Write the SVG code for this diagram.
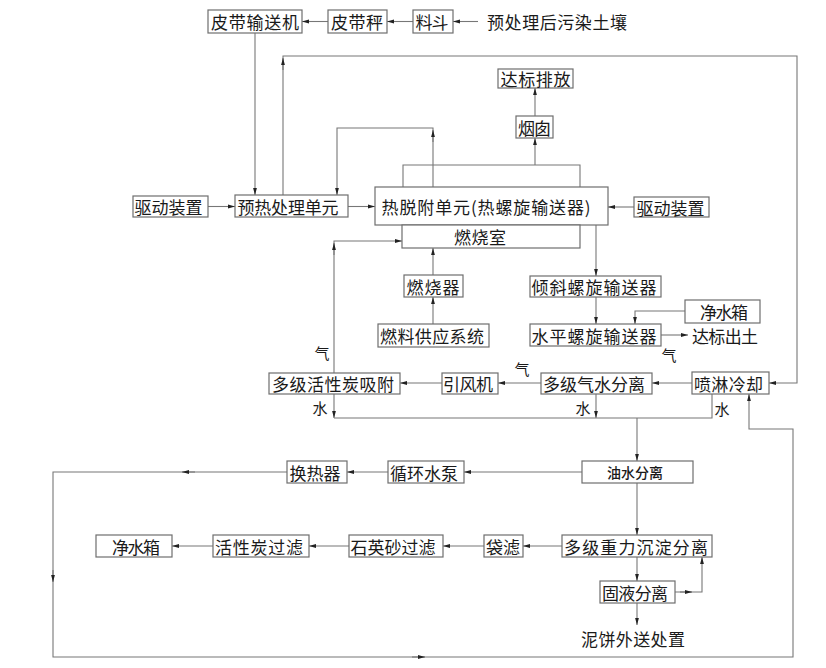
<svg xmlns="http://www.w3.org/2000/svg" width="826" height="668" viewBox="0 0 826 668">
<style>
.b{fill:#fff;stroke:#6e6e6e;stroke-width:1.2}
.t{font-family:"Noto Sans CJK SC","Noto Sans",sans-serif;font-size:17px;fill:#1a1a1a;text-anchor:middle;dominant-baseline:central}
.s{font-size:15px}
.c{fill:none;stroke:#777;stroke-width:1.1}
.a{marker-end:url(#ah)}
</style>
<defs>
<marker id="ah" markerUnits="userSpaceOnUse" markerWidth="8" markerHeight="5" refX="7" refY="2.5" orient="auto">
<path d="M0,0.6 L7,2.5 L0,4.4 z" fill="#222"/>
</marker>
</defs>
<rect width="826" height="668" fill="#fff"/>
<g id="connectors">
<line class="c a" x1="478" y1="21.5" x2="453" y2="21.5"/>
<line class="c a" x1="413" y1="21.5" x2="387" y2="21.5"/>
<line class="c a" x1="328" y1="21.5" x2="302" y2="21.5"/>
<line class="c a" x1="255" y1="33" x2="255" y2="195"/>
<polyline class="c a" points="283,195 283,56 797,56 797,383 769,383"/>
<line class="c a" x1="283" y1="70" x2="283" y2="58"/>
<polyline class="c a" points="433,187 433,128 337,128 337,195"/>
<line class="c a" x1="433" y1="142" x2="433" y2="130"/>
<line class="c a" x1="208" y1="206.5" x2="235" y2="206.5"/>
<line class="c a" x1="348" y1="206.5" x2="375" y2="206.5"/>
<line class="c a" x1="634" y1="207" x2="608" y2="207"/>
<polyline class="c" points="403,187 403,165 580,165 580,187"/>
<line class="c a" x1="535" y1="165" x2="535" y2="138"/>
<line class="c a" x1="535" y1="116" x2="535" y2="88"/>
<line class="c a" x1="596" y1="225" x2="596" y2="276"/>
<line class="c a" x1="596" y1="297" x2="596" y2="324"/>
<polyline class="c a" points="685,311 635,311 635,324"/>
<line class="c a" x1="661" y1="335" x2="688" y2="335"/>
<line class="c a" x1="433" y1="324" x2="433" y2="297"/>
<line class="c a" x1="433" y1="275" x2="433" y2="248"/>
<polyline class="c a" points="334,373 334,241 402,241"/>
<line class="c a" x1="334" y1="255" x2="334" y2="243"/>
<line class="c a" x1="692" y1="383" x2="652" y2="383"/>
<line class="c a" x1="541" y1="383" x2="498" y2="383"/>
<line class="c a" x1="442" y1="383" x2="400" y2="383"/>
<line class="c a" x1="334" y1="394" x2="334" y2="418"/>
<line class="c a" x1="596" y1="394" x2="596" y2="418"/>
<polyline class="c" points="712,394 712,418 334,418"/>
<line class="c a" x1="637" y1="418" x2="637" y2="461"/>
<line class="c a" x1="582" y1="472" x2="464" y2="472"/>
<line class="c a" x1="388" y1="472" x2="347" y2="472"/>
<polyline class="c a" points="287,472 53,472 53,657 793,657 793,429 749,429 749,394"/>
<line class="c a" x1="195" y1="472" x2="182" y2="472"/>
<line class="c a" x1="53" y1="570" x2="53" y2="582"/>
<line class="c a" x1="412" y1="657" x2="425" y2="657"/>
<line class="c a" x1="637" y1="483" x2="637" y2="535"/>
<line class="c a" x1="562" y1="546" x2="523" y2="546"/>
<line class="c a" x1="484" y1="546" x2="443" y2="546"/>
<line class="c a" x1="349" y1="546" x2="309" y2="546"/>
<line class="c a" x1="213" y1="546" x2="172" y2="546"/>
<line class="c a" x1="637" y1="557" x2="637" y2="581"/>
<polyline class="c a" points="675,592 702,592 702,557"/>
<line class="c a" x1="680" y1="592" x2="692" y2="592"/>
<line class="c a" x1="637" y1="603" x2="637" y2="625"/>
<text class="t s" x="322" y="352">气</text>
<text class="t s" x="522" y="368">气</text>
<text class="t s" x="669" y="354">气</text>
<text class="t s" x="320" y="407">水</text>
<text class="t s" x="583" y="407">水</text>
<text class="t s" x="722" y="408">水</text>
</g>
<g id="n_pidaishusong"><rect class="b" x="208" y="10" width="94" height="23"/><text class="t" x="255" y="21.5" textLength="88" lengthAdjust="spacing">皮带输送机</text></g>
<g id="n_pidaicheng"><rect class="b" x="328" y="10" width="59" height="23"/><text class="t" x="357" y="21.5" textLength="52" lengthAdjust="spacing">皮带秤</text></g>
<g id="n_liaodou"><rect class="b" x="413" y="10" width="40" height="23"/><text class="t" x="432" y="21.5" textLength="33" lengthAdjust="spacing">料斗</text></g>
<g id="n_source"><text class="t" x="557" y="21" textLength="140" lengthAdjust="spacing">预处理后污染土壤</text></g>
<g id="n_dabiaopaifang"><rect class="b" x="498" y="69" width="75" height="19"/><text class="t" x="535.5" y="78.5" textLength="70" lengthAdjust="spacing">达标排放</text></g>
<g id="n_yancong"><rect class="b" x="516" y="116" width="37" height="22"/><text class="t" x="534.5" y="127" textLength="33" lengthAdjust="spacing">烟囱</text></g>
<g id="n_qudong_l"><rect class="b" x="133" y="196" width="75" height="21"/><text class="t" x="168.5" y="206.5" textLength="68" lengthAdjust="spacing">驱动装置</text></g>
<g id="n_yure"><rect class="b" x="235" y="195" width="113" height="22"/><text class="t" x="288" y="206" textLength="101" lengthAdjust="spacing">预热处理单元</text></g>
<g id="n_retuofu"><rect class="b" x="375" y="187" width="233" height="38"/><text class="t" x="486" y="206.5" textLength="209" lengthAdjust="spacing">热脱附单元(热螺旋输送器)</text></g>
<g id="n_ranshaoshi"><rect class="b" x="402" y="225" width="178" height="23"/><text class="t" x="480" y="236.5" textLength="52" lengthAdjust="spacing">燃烧室</text></g>
<g id="n_qudong_r"><rect class="b" x="634" y="197" width="75" height="20"/><text class="t" x="670.5" y="207" textLength="68" lengthAdjust="spacing">驱动装置</text></g>
<g id="n_ranshaoqi"><rect class="b" x="404" y="275" width="59" height="22"/><text class="t" x="433" y="286" textLength="53" lengthAdjust="spacing">燃烧器</text></g>
<g id="n_ranliao"><rect class="b" x="378" y="324" width="111" height="23"/><text class="t" x="432" y="335.5" textLength="104" lengthAdjust="spacing">燃料供应系统</text></g>
<g id="n_qingxie"><rect class="b" x="530" y="276" width="131" height="21"/><text class="t" x="594" y="286.5" textLength="125" lengthAdjust="spacing">倾斜螺旋输送器</text></g>
<g id="n_jingshuixiang_top"><rect class="b" x="685" y="300" width="75" height="23"/><text class="t" x="724" y="311.5" textLength="48" lengthAdjust="spacing">净水箱</text></g>
<g id="n_shuiping"><rect class="b" x="530" y="324" width="131" height="22"/><text class="t" x="594" y="335" textLength="125" lengthAdjust="spacing">水平螺旋输送器</text></g>
<g id="n_dabiaochutu"><text class="t" x="725" y="335" textLength="66" lengthAdjust="spacing">达标出土</text></g>
<g id="n_huoxingtan"><rect class="b" x="269" y="373" width="131" height="21"/><text class="t" x="333" y="383.5" textLength="122" lengthAdjust="spacing">多级活性炭吸附</text></g>
<g id="n_yinfengji"><rect class="b" x="442" y="373" width="56" height="21"/><text class="t" x="468" y="383.5" textLength="50" lengthAdjust="spacing">引风机</text></g>
<g id="n_qishui"><rect class="b" x="541" y="373" width="111" height="21"/><text class="t" x="594" y="383.5" textLength="102" lengthAdjust="spacing">多级气水分离</text></g>
<g id="n_penlin"><rect class="b" x="692" y="372" width="77" height="22"/><text class="t" x="728.5" y="383" textLength="69" lengthAdjust="spacing">喷淋冷却</text></g>
<g id="n_youshui"><rect class="b" x="582" y="461" width="111" height="22"/><text class="t" x="635" y="472" style="font-size:14px;font-weight:500" textLength="56" lengthAdjust="spacing">油水分离</text></g>
<g id="n_xunhuan"><rect class="b" x="388" y="461" width="76" height="22"/><text class="t" x="424" y="472" textLength="68" lengthAdjust="spacing">循环水泵</text></g>
<g id="n_huanreqi"><rect class="b" x="287" y="461" width="60" height="22"/><text class="t" x="315" y="472" textLength="51" lengthAdjust="spacing">换热器</text></g>
<g id="n_zhongli"><rect class="b" x="562" y="535" width="150" height="22"/><text class="t" x="636" y="546" textLength="144" lengthAdjust="spacing">多级重力沉淀分离</text></g>
<g id="n_dailv"><rect class="b" x="484" y="535" width="39" height="22"/><text class="t" x="503" y="546" textLength="34" lengthAdjust="spacing">袋滤</text></g>
<g id="n_shiying"><rect class="b" x="349" y="535" width="94" height="22"/><text class="t" x="393" y="546" textLength="85" lengthAdjust="spacing">石英砂过滤</text></g>
<g id="n_huoxingtanguolv"><rect class="b" x="213" y="535" width="96" height="22"/><text class="t" x="259" y="546" textLength="88" lengthAdjust="spacing">活性炭过滤</text></g>
<g id="n_jingshuixiang_bottom"><rect class="b" x="96" y="535" width="76" height="22"/><text class="t" x="136" y="546" textLength="48" lengthAdjust="spacing">净水箱</text></g>
<g id="n_guye"><rect class="b" x="600" y="581" width="75" height="22"/><text class="t" x="635" y="592" textLength="66" lengthAdjust="spacing">固液分离</text></g>
<g id="n_nibing"><text class="t" x="633" y="638" textLength="104" lengthAdjust="spacing">泥饼外送处置</text></g>
</svg>
